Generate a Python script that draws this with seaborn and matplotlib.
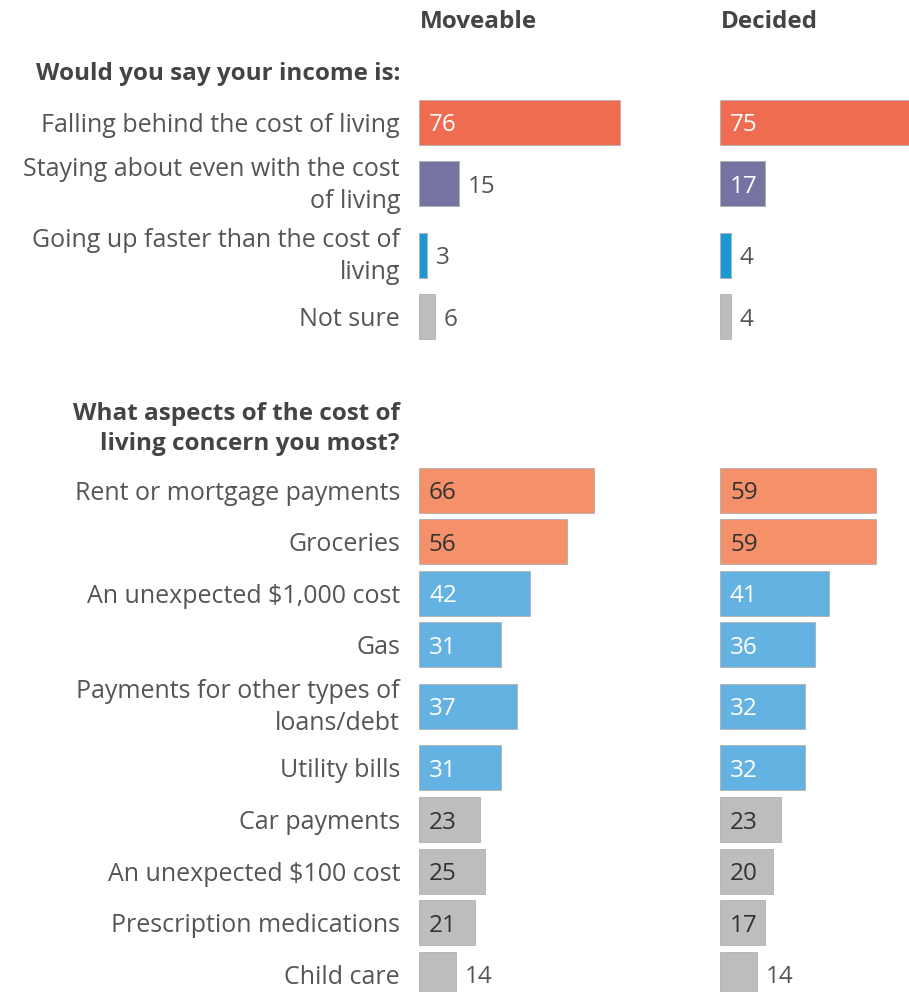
import matplotlib
matplotlib.use('Agg')
import matplotlib.pyplot as plt
import seaborn as sns
import numpy as np
import pandas as pd

# --- data ---
column_titles = ['Moveable', 'Decided']

income_question = 'Would you say your income is:'
income_labels = [
    'Falling behind the cost of living',
    'Staying about even with the cost\nof living',
    'Going up faster than the cost of\nliving',
    'Not sure',
]
income_moveable = [76, 15, 3, 6]
income_decided = [75, 17, 4, 4]
income_groups = ['falling', 'even', 'up', 'unsure']

concern_question = 'What aspects of the cost of\nliving concern you most?'
concern_labels = [
    'Rent or mortgage payments',
    'Groceries',
    'An unexpected $1,000 cost',
    'Gas',
    'Payments for other types of\nloans/debt',
    'Utility bills',
    'Car payments',
    'An unexpected $100 cost',
    'Prescription medications',
    'Child care',
]
concern_moveable = [66, 56, 42, 31, 37, 31, 23, 25, 21, 14]
concern_decided = [59, 59, 41, 36, 32, 32, 23, 20, 17, 14]
concern_groups = ['top', 'top', 'mid', 'mid', 'mid', 'mid', 'low', 'low', 'low', 'low']

palette = {
    'falling': '#F06C50',
    'even': '#7573A2',
    'up': '#1A98D5',
    'unsure': '#BDBDBF',
    'top': '#F5916A',
    'mid': '#64B2E2',
    'low': '#BDBDBF',
}
dark_text_groups = {'top', 'low', 'unsure'}

# --- layout (figure pixels) ---
W, H = 909, 992
PX_PER_UNIT = 2.65
BAR_PX = 45
LABEL_COLOR = '#555555'
HEAD_COLOR = '#444444'
FONT = ['Open Sans', 'DejaVu Sans']
LABEL_SIZE = 18
LINESP = 1.37


def row_positions(labels, top):
    pos, y = [], top
    for lab in labels:
        half = 25.8 + 10 * lab.count('\n')
        y += half
        pos.append(y)
        y += half
    return pos


df = pd.DataFrame({
    'label': income_labels + concern_labels,
    'pos': row_positions(income_labels, 96.2) + row_positions(concern_labels, 464.2),
    'group': income_groups + concern_groups,
    'Moveable': income_moveable + concern_moveable,
    'Decided': income_decided + concern_decided,
})

sns.set_style('white')
plt.rcParams['font.family'] = FONT

fig = plt.figure(figsize=(W / 100, H / 100), dpi=100)
ax_w = 280 / W
axes = [fig.add_axes([419 / W, 0, ax_w, 1]), fig.add_axes([720 / W, 0, ax_w, 1])]

width = BAR_PX / np.diff(np.sort(df['pos'].unique())).min()
xmax = 280 / PX_PER_UNIT

for ax, col in zip(axes, column_titles):
    sns.barplot(data=df, x=col, y='pos', hue='group', palette=palette,
                orient='h', native_scale=True, width=width, dodge=False,
                errorbar=None, legend=False, ax=ax, saturation=1,
                edgecolor='#b0b0b0', linewidth=0.6)
    ax.set_xlim(0, xmax)
    ax.set_ylim(H, 0)
    ax.axis('off')
    ax.text(0.3, 19, col, fontsize=17.5, fontweight='bold', color=HEAD_COLOR,
            ha='left', va='center_baseline')
    for _, r in df.iterrows():
        v = r[col]
        if v >= 16:
            c = '#333333' if r['group'] in dark_text_groups else 'white'
            ax.text(10 / PX_PER_UNIT, r['pos'], str(v), fontsize=17.5, color=c,
                    ha='left', va='center_baseline')
        else:
            ax.text(v + 9 / PX_PER_UNIT, r['pos'], str(v), fontsize=17.5,
                    color=LABEL_COLOR, ha='left', va='center_baseline')

# row labels and questions on the left panel
ax = axes[0]
lx = -19 / PX_PER_UNIT
for _, r in df.iterrows():
    multi = '\n' in r['label']
    ax.text(lx, r['pos'] + (1.5 if multi else 0), r['label'], fontsize=LABEL_SIZE,
            color=LABEL_COLOR, ha='right',
            va='center' if multi else 'center_baseline',
            linespacing=LINESP, clip_on=False)
ax.text(lx, 71, income_question, fontsize=17.5, fontweight='bold',
        color=HEAD_COLOR, ha='right', va='center_baseline', clip_on=False)
ax.text(lx, 429, concern_question, fontsize=17.5, fontweight='bold',
        color=HEAD_COLOR, ha='right', va='center', linespacing=LINESP,
        clip_on=False)

fig.savefig('out.png', dpi=100)
